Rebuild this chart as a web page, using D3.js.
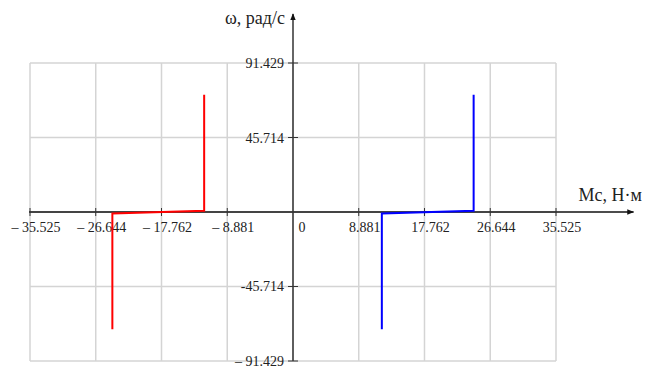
<!DOCTYPE html>
<html>
<head>
<meta charset="utf-8">
<script src="https://cdn.jsdelivr.net/npm/d3@7"></script>
<style>
  body { margin: 0; background: #fff; }
  text { font-family: "Liberation Serif", "Times New Roman", serif; fill: #222; }
</style>
</head>
<body>
<div id="chart"></div>
<script>
// ticks along Mc (Н·м) and ω (рад/с)
const xTicks = [-35.525, -26.644, -17.762, -8.881, 0, 8.881, 17.762, 26.644, 35.525];
const xTickLabels = ["– 35.525", "– 26.644", "– 17.762", "– 8.881", "0", "8.881", "17.762", "26.644", "35.525"];
const yTicks = [91.429, 45.714, -45.714, -91.429];
const yTickLabels = ["91.429", "45.714", "-45.714", "– 91.429"];

// curve points
const redMc = [-12, -12, -24.4, -24.4];
const redW = [72, 0.8, -0.9, -72];
const blueMc = [24.4, 24.4, 12, 12];
const blueW = [72, 0.8, -0.9, -72];

const width = 648, height = 369;

const x = d3.scaleLinear().domain([-35.525, 35.525]).range([30, 556]);
const y = d3.scaleLinear().domain([-91.429, 91.429]).range([361, 63]);

const svg = d3.select('#chart')
	.append('svg')
		.attr('width', width)
		.attr('height', height);

svg.append('defs').append('marker')
	.attr('id', 'arrow')
	.attr('viewBox', '0 0 10 10')
	.attr('refX', 9).attr('refY', 5)
	.attr('markerWidth', 7).attr('markerHeight', 7)
	.attr('markerUnits', 'userSpaceOnUse')
	.attr('orient', 'auto')
	.append('path')
		.attr('d', 'M0,1 L10,5 L0,9 Z')
		.attr('fill', '#111');

// grid
const grid = svg.append('g').attr('class', 'grid');
grid.selectAll('.vgrid')
	.data(xTicks).enter()
	.append('line')
		.attr('x1', d => x(d)).attr('x2', d => x(d))
		.attr('y1', y(91.429)).attr('y2', y(-91.429))
		.attr('stroke', '#d4d4d4').attr('stroke-width', 1.5);
grid.selectAll('.hgrid')
	.data([91.429, 45.714, 0, -45.714, -91.429]).enter()
	.append('line')
		.attr('x1', x(-35.525)).attr('x2', x(35.525))
		.attr('y1', d => y(d)).attr('y2', d => y(d))
		.attr('stroke', '#d4d4d4').attr('stroke-width', 1.5);

// x axis through zero
const xAxis = svg.append('g').attr('transform', `translate(0,${y(0)})`);
xAxis.append('line')
	.attr('x1', x(-35.525) - 1).attr('x2', x(46))
	.attr('stroke', '#111').attr('stroke-width', 1.3)
	.attr('marker-end', 'url(#arrow)');
xAxis.selectAll('.xtick')
	.data(xTicks.filter(d => d !== 0)).enter()
	.append('line')
		.attr('x1', d => x(d)).attr('x2', d => x(d))
		.attr('y1', -4).attr('y2', 4)
		.attr('stroke', '#333').attr('stroke-width', 1);
xAxis.selectAll('.xlabel')
	.data(xTicks).enter()
	.append('text')
		.attr('x', (d, i) => x(d) + (d === 0 ? 9 : 6))
		.attr('y', 20)
		.attr('text-anchor', 'middle')
		.style('font-size', '14px')
		.text((d, i) => xTickLabels[i]);
xAxis.append('text')
	.attr('x', 642).attr('y', -11)
	.attr('text-anchor', 'end')
	.style('font-size', '18px')
	.text('Mc, Н·м');

// y axis through zero
const yAxis = svg.append('g').attr('transform', `translate(${x(0)},0)`);
yAxis.append('line')
	.attr('y1', y(-91.429)).attr('y2', y(121.5))
	.attr('stroke', '#333').attr('stroke-width', 1.5)
	.attr('marker-end', 'url(#arrow)');
yAxis.selectAll('.ytick')
	.data(yTicks).enter()
	.append('line')
		.attr('x1', -5).attr('x2', 5)
		.attr('y1', d => y(d)).attr('y2', d => y(d))
		.attr('stroke', '#333').attr('stroke-width', 1);
yAxis.selectAll('.ylabel')
	.data(yTicks).enter()
	.append('text')
		.attr('x', -9)
		.attr('y', d => y(d) + 5)
		.attr('text-anchor', 'end')
		.style('font-size', '14px')
		.text((d, i) => yTickLabels[i]);
yAxis.append('text')
	.attr('x', -8).attr('y', 24)
	.attr('text-anchor', 'end')
	.style('font-size', '18px')
	.text('ω, рад/с');

// curves
const line = d3.line().x(d => x(d[0])).y(d => y(d[1]));
const curves = [
	{ mc: redMc, w: redW, color: '#ff0000' },
	{ mc: blueMc, w: blueW, color: '#0000ff' }
];
svg.selectAll('.curve')
	.data(curves).enter()
	.append('path')
		.attr('d', c => line(c.mc.map((v, i) => [v, c.w[i]])))
		.attr('fill', 'none')
		.attr('stroke', c => c.color)
		.attr('stroke-width', 2);
</script>
</body>
</html>
